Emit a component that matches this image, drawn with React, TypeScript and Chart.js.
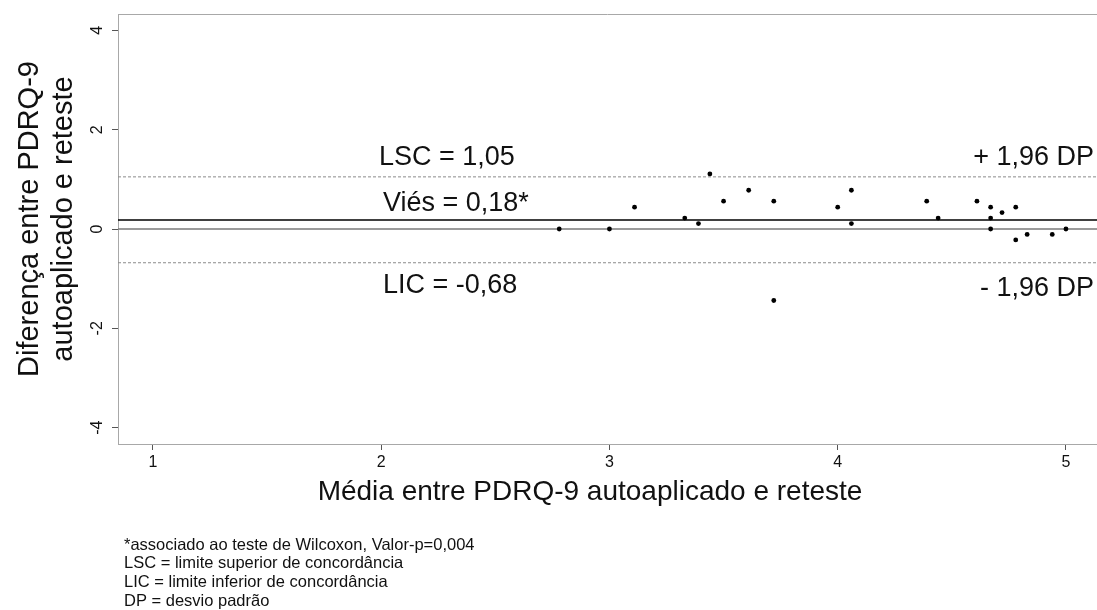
import React, { useEffect, useRef } from "react";
import { Chart, registerables } from "chart.js";

Chart.register(...registerables);

// ---- Data ----
const meanValues = [2.78, 3.0, 3.11, 3.33, 3.39, 3.44, 3.5, 3.61, 3.72, 3.72, 4.0, 4.06, 4.06, 4.39, 4.44, 4.61, 4.67, 4.67, 4.67, 4.72, 4.78, 4.78, 4.83, 4.94, 5.0];
const diffValues = [0, 0, 0.44, 0.22, 0.11, 1.11, 0.56, 0.78, 0.56, -1.44, 0.44, 0.78, 0.11, 0.56, 0.22, 0.56, 0.44, 0.22, 0, 0.33, 0.44, -0.22, -0.11, -0.11, 0];
const biasValue = 0.18;
const upperLimit = 1.05;
const lowerLimit = -0.68;
const zeroValue = 0;

const xTickValues = [1, 2, 3, 4, 5];
const xTickLabels = ["1", "2", "3", "4", "5"];
const yTickValues = [-4, -2, 0, 2, 4];
const yTickLabels = ["-4", "-2", "0", "2", "4"];
const xRange = [0.847, 5.136];
const yRange = [-4.33, 4.33];

const xTitle = "Média entre PDRQ-9 autoaplicado e reteste";
const yTitleLines = ["Diferença entre PDRQ-9", "autoaplicado e reteste"];
const upperLabel = "LSC = 1,05";
const biasLabel = "Viés = 0,18*";
const lowerLabel = "LIC = -0,68";
const upperSdLabel = "+ 1,96 DP";
const lowerSdLabel = "- 1,96 DP";
const footnotes = [
  "*associado ao teste de Wilcoxon, Valor-p=0,004",
  "LSC = limite superior de concordância",
  "LIC = limite inferior de concordância",
  "DP = desvio padrão",
];

const FONT = '"Liberation Sans", Arial, Helvetica, sans-serif';

const overlayPlugin = {
  id: "overlay",
  afterDraw(chart: any) {
    const { ctx, chartArea, scales } = chart;
    const xs = scales.x;
    const ys = scales.y;
    ctx.save();
    // top border of the box
    ctx.strokeStyle = "#a8a8a8";
    ctx.lineWidth = 1;
    ctx.beginPath();
    ctx.moveTo(chartArea.left, Math.round(chartArea.top) + 0.5);
    ctx.lineTo(chartArea.right, Math.round(chartArea.top) + 0.5);
    ctx.stroke();

    ctx.fillStyle = "#111";
    // x tick labels
    ctx.font = `16px ${FONT}`;
    ctx.textAlign = "center";
    ctx.textBaseline = "middle";
    xTickValues.forEach((v, i) => {
      ctx.fillText(xTickLabels[i], xs.getPixelForValue(v), 463);
    });
    // y tick labels (rotated)
    yTickValues.forEach((v, i) => {
      ctx.save();
      ctx.translate(98, ys.getPixelForValue(v));
      ctx.rotate(-Math.PI / 2);
      ctx.fillText(yTickLabels[i], 0, 0);
      ctx.restore();
    });

    // axis titles
    ctx.font = `28px ${FONT}`;
    ctx.textBaseline = "alphabetic";
    ctx.textAlign = "center";
    ctx.fillText(xTitle, 590, 500);

    ctx.font = `29px ${FONT}`;
    ctx.textBaseline = "middle";
    const yCenters = [30, 64];
    yTitleLines.forEach((line, i) => {
      ctx.save();
      ctx.translate(yCenters[i], 219);
      ctx.rotate(-Math.PI / 2);
      ctx.fillText(line, 0, 0);
      ctx.restore();
    });

    // annotations
    ctx.font = `27px ${FONT}`;
    ctx.textBaseline = "alphabetic";
    ctx.textAlign = "left";
    ctx.fillText(upperLabel, 379, ys.getPixelForValue(upperLimit) - 12);
    ctx.fillText(biasLabel, 383, ys.getPixelForValue(biasValue) - 9);
    ctx.fillText(lowerLabel, 383, ys.getPixelForValue(lowerLimit) + 30);
    ctx.textAlign = "right";
    ctx.fillText(upperSdLabel, 1094, ys.getPixelForValue(upperLimit) - 12);
    ctx.fillText(lowerSdLabel, 1094, ys.getPixelForValue(lowerLimit) + 33);

    // footnotes
    ctx.font = `16.5px ${FONT}`;
    ctx.textAlign = "left";
    ctx.textBaseline = "middle";
    footnotes.forEach((line, i) => {
      ctx.fillText(line, 124, 545 + i * 18.7);
    });
    ctx.restore();
  },
};

export default function App() {
  const canvasRef = useRef<HTMLCanvasElement | null>(null);

  useEffect(() => {
    document.body.style.margin = "0";
    const canvas = canvasRef.current;
    if (!canvas) return;

    const points = meanValues.map((m, i) => ({ x: m, y: diffValues[i] }));
    const hLine = (v: number) => [
      { x: xRange[0], y: v },
      { x: xRange[1], y: v },
    ];

    const chart = new Chart(canvas, {
      type: "scatter",
      data: {
        datasets: [
          {
            label: "pontos",
            data: points,
            backgroundColor: "#000",
            borderColor: "#000",
            pointRadius: 2.4,
            pointBorderWidth: 0,
            order: 0,
          },
          {
            label: "viés",
            data: hLine(biasValue),
            showLine: true,
            borderColor: "#000",
            borderWidth: 1.5,
            pointRadius: 0,
            pointHoverRadius: 0,
            order: 1,
          },
          {
            label: "zero",
            data: hLine(zeroValue),
            showLine: true,
            borderColor: "#7a7a7a",
            borderWidth: 1.5,
            pointRadius: 0,
            pointHoverRadius: 0,
            order: 2,
          },
          {
            label: "LSC",
            data: hLine(upperLimit),
            showLine: true,
            borderColor: "#8a8a8a",
            borderWidth: 1,
            borderDash: [3, 2],
            pointRadius: 0,
            pointHoverRadius: 0,
            order: 3,
          },
          {
            label: "LIC",
            data: hLine(lowerLimit),
            showLine: true,
            borderColor: "#8a8a8a",
            borderWidth: 1,
            borderDash: [3, 2],
            pointRadius: 0,
            pointHoverRadius: 0,
            order: 4,
          },
        ],
      },
      options: {
        responsive: false,
        animation: false,
        devicePixelRatio: 1,
        events: [],
        layout: { autoPadding: false, padding: { left: 0, top: 14, right: 0, bottom: 0 } },
        plugins: {
          legend: { display: false },
          tooltip: { enabled: false },
          title: { display: false },
        },
        scales: {
          x: {
            type: "linear",
            min: xRange[0],
            max: xRange[1],
            afterBuildTicks: (scale: any) => {
              scale.ticks = xTickValues.map((v) => ({ value: v }));
            },
            afterFit: (scale: any) => {
              scale.height = 610 - 444;
              scale.paddingLeft = 0;
              scale.paddingRight = 0;
            },
            ticks: { display: false },
            grid: { drawOnChartArea: false, drawTicks: true, tickLength: 6, color: "#555" },
            border: { display: true, color: "#a8a8a8", width: 1 },
          },
          y: {
            type: "linear",
            min: yRange[0],
            max: yRange[1],
            afterBuildTicks: (scale: any) => {
              scale.ticks = yTickValues.map((v) => ({ value: v }));
            },
            afterFit: (scale: any) => {
              scale.width = 118;
              scale.paddingTop = 0;
              scale.paddingBottom = 0;
            },
            ticks: { display: false },
            grid: { drawOnChartArea: false, drawTicks: true, tickLength: 6, color: "#555" },
            border: { display: true, color: "#a8a8a8", width: 1 },
          },
        },
      },
      plugins: [overlayPlugin],
    });

    return () => chart.destroy();
  }, []);

  return (
    <div style={{ width: 1097, height: 610, background: "#fff" }}>
      <canvas ref={canvasRef} width={1097} height={610} style={{ display: "block" }} />
    </div>
  );
}
